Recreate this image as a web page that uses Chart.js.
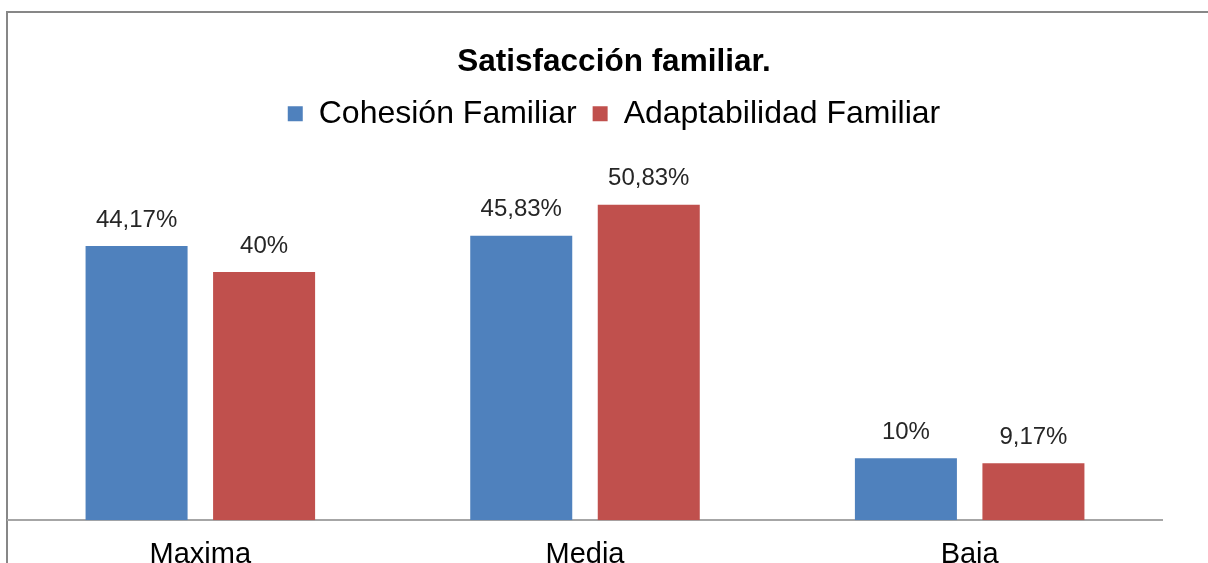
<!DOCTYPE html>
<html>
<head>
<meta charset="utf-8">
<script src="https://cdn.jsdelivr.net/npm/chart.js@4.4.1/dist/chart.umd.min.js"></script>
<style>
html,body{margin:0;padding:0;overflow:hidden;background:#fff;width:1208px;height:563px;}
#wrap{position:absolute;left:0;top:0;width:1220px;height:600px;}
</style>
</head>
<body>
<div id="wrap"><canvas id="c" width="1220" height="600"></canvas></div>
<script>
const categories = ["Maxima", "Media", "Baja"];
const cohesion = [44.17, 45.83, 10];
const adaptabilidad = [40, 50.83, 9.17];
const seriesNames = ["Cohesión Familiar", "Adaptabilidad Familiar"];

const framePlugin = {
  id: 'frame',
  beforeDraw(chart) {
    const ctx = chart.ctx;
    ctx.save();
    ctx.fillStyle = '#fff';
    ctx.fillRect(0, 0, chart.width, chart.height);
    ctx.strokeStyle = '#878787';
    ctx.lineWidth = 2;
    ctx.strokeRect(7, 12, 3000, 3000);
    ctx.restore();
  }
};

const labelPlugin = {
  id: 'vlabels',
  afterDatasetsDraw(chart) {
    const ctx = chart.ctx;
    ctx.save();
    ctx.font = '24px "Liberation Sans", Arial, sans-serif';
    ctx.fillStyle = '#262626';
    ctx.textAlign = 'center';
    ctx.textBaseline = 'middle';
    chart.data.datasets.forEach((ds, i) => {
      const meta = chart.getDatasetMeta(i);
      meta.data.forEach((bar, j) => {
        const txt = String(ds.data[j]).replace('.', ',') + '%';
        ctx.fillText(txt, bar.x, bar.y - 26);
      });
    });
    ctx.restore();
  }
};

new Chart(document.getElementById('c'), {
  type: 'bar',
  data: {
    labels: categories,
    datasets: [
      { label: seriesNames[0], data: cohesion, backgroundColor: '#4F81BD', categoryPercentage: 0.663, barPercentage: 0.8 },
      { label: seriesNames[1], data: adaptabilidad, backgroundColor: '#C0504D', categoryPercentage: 0.663, barPercentage: 0.8 }
    ]
  },
  options: {
    responsive: false,
    animation: false,
    devicePixelRatio: 1,
    layout: { padding: { left: 8, right: 0, top: 0, bottom: 11 } },
    plugins: {
      title: {
        display: true,
        text: 'Satisfacción familiar.',
        color: '#000',
        font: { family: '"Liberation Sans", Arial, sans-serif', size: 31.5, weight: 'bold' },
        padding: { top: 43, bottom: 1 }
      },
      legend: {
        display: true,
        labels: {
          color: '#000',
          font: { family: '"Liberation Sans", Arial, sans-serif', size: 32 },
          boxWidth: 15,
          boxHeight: 15,
          padding: 16
        }
      },
      tooltip: { enabled: false }
    },
    scales: {
      x: {
        grid: { display: false, drawTicks: false },
        border: { display: true, color: '#A6A6A6', width: 2 },
        ticks: { color: '#000', font: { family: '"Liberation Sans", Arial, sans-serif', size: 29 }, padding: 17 }
      },
      y: {
        position: 'right',
        min: 0,
        max: 61.3,
        display: true,
        grid: { display: false, drawTicks: false },
        border: { display: false },
        ticks: { display: false },
        afterFit(scale) { scale.width = 58; }
      }
    }
  },
  plugins: [framePlugin, labelPlugin]
});
</script>
</body>
</html>
